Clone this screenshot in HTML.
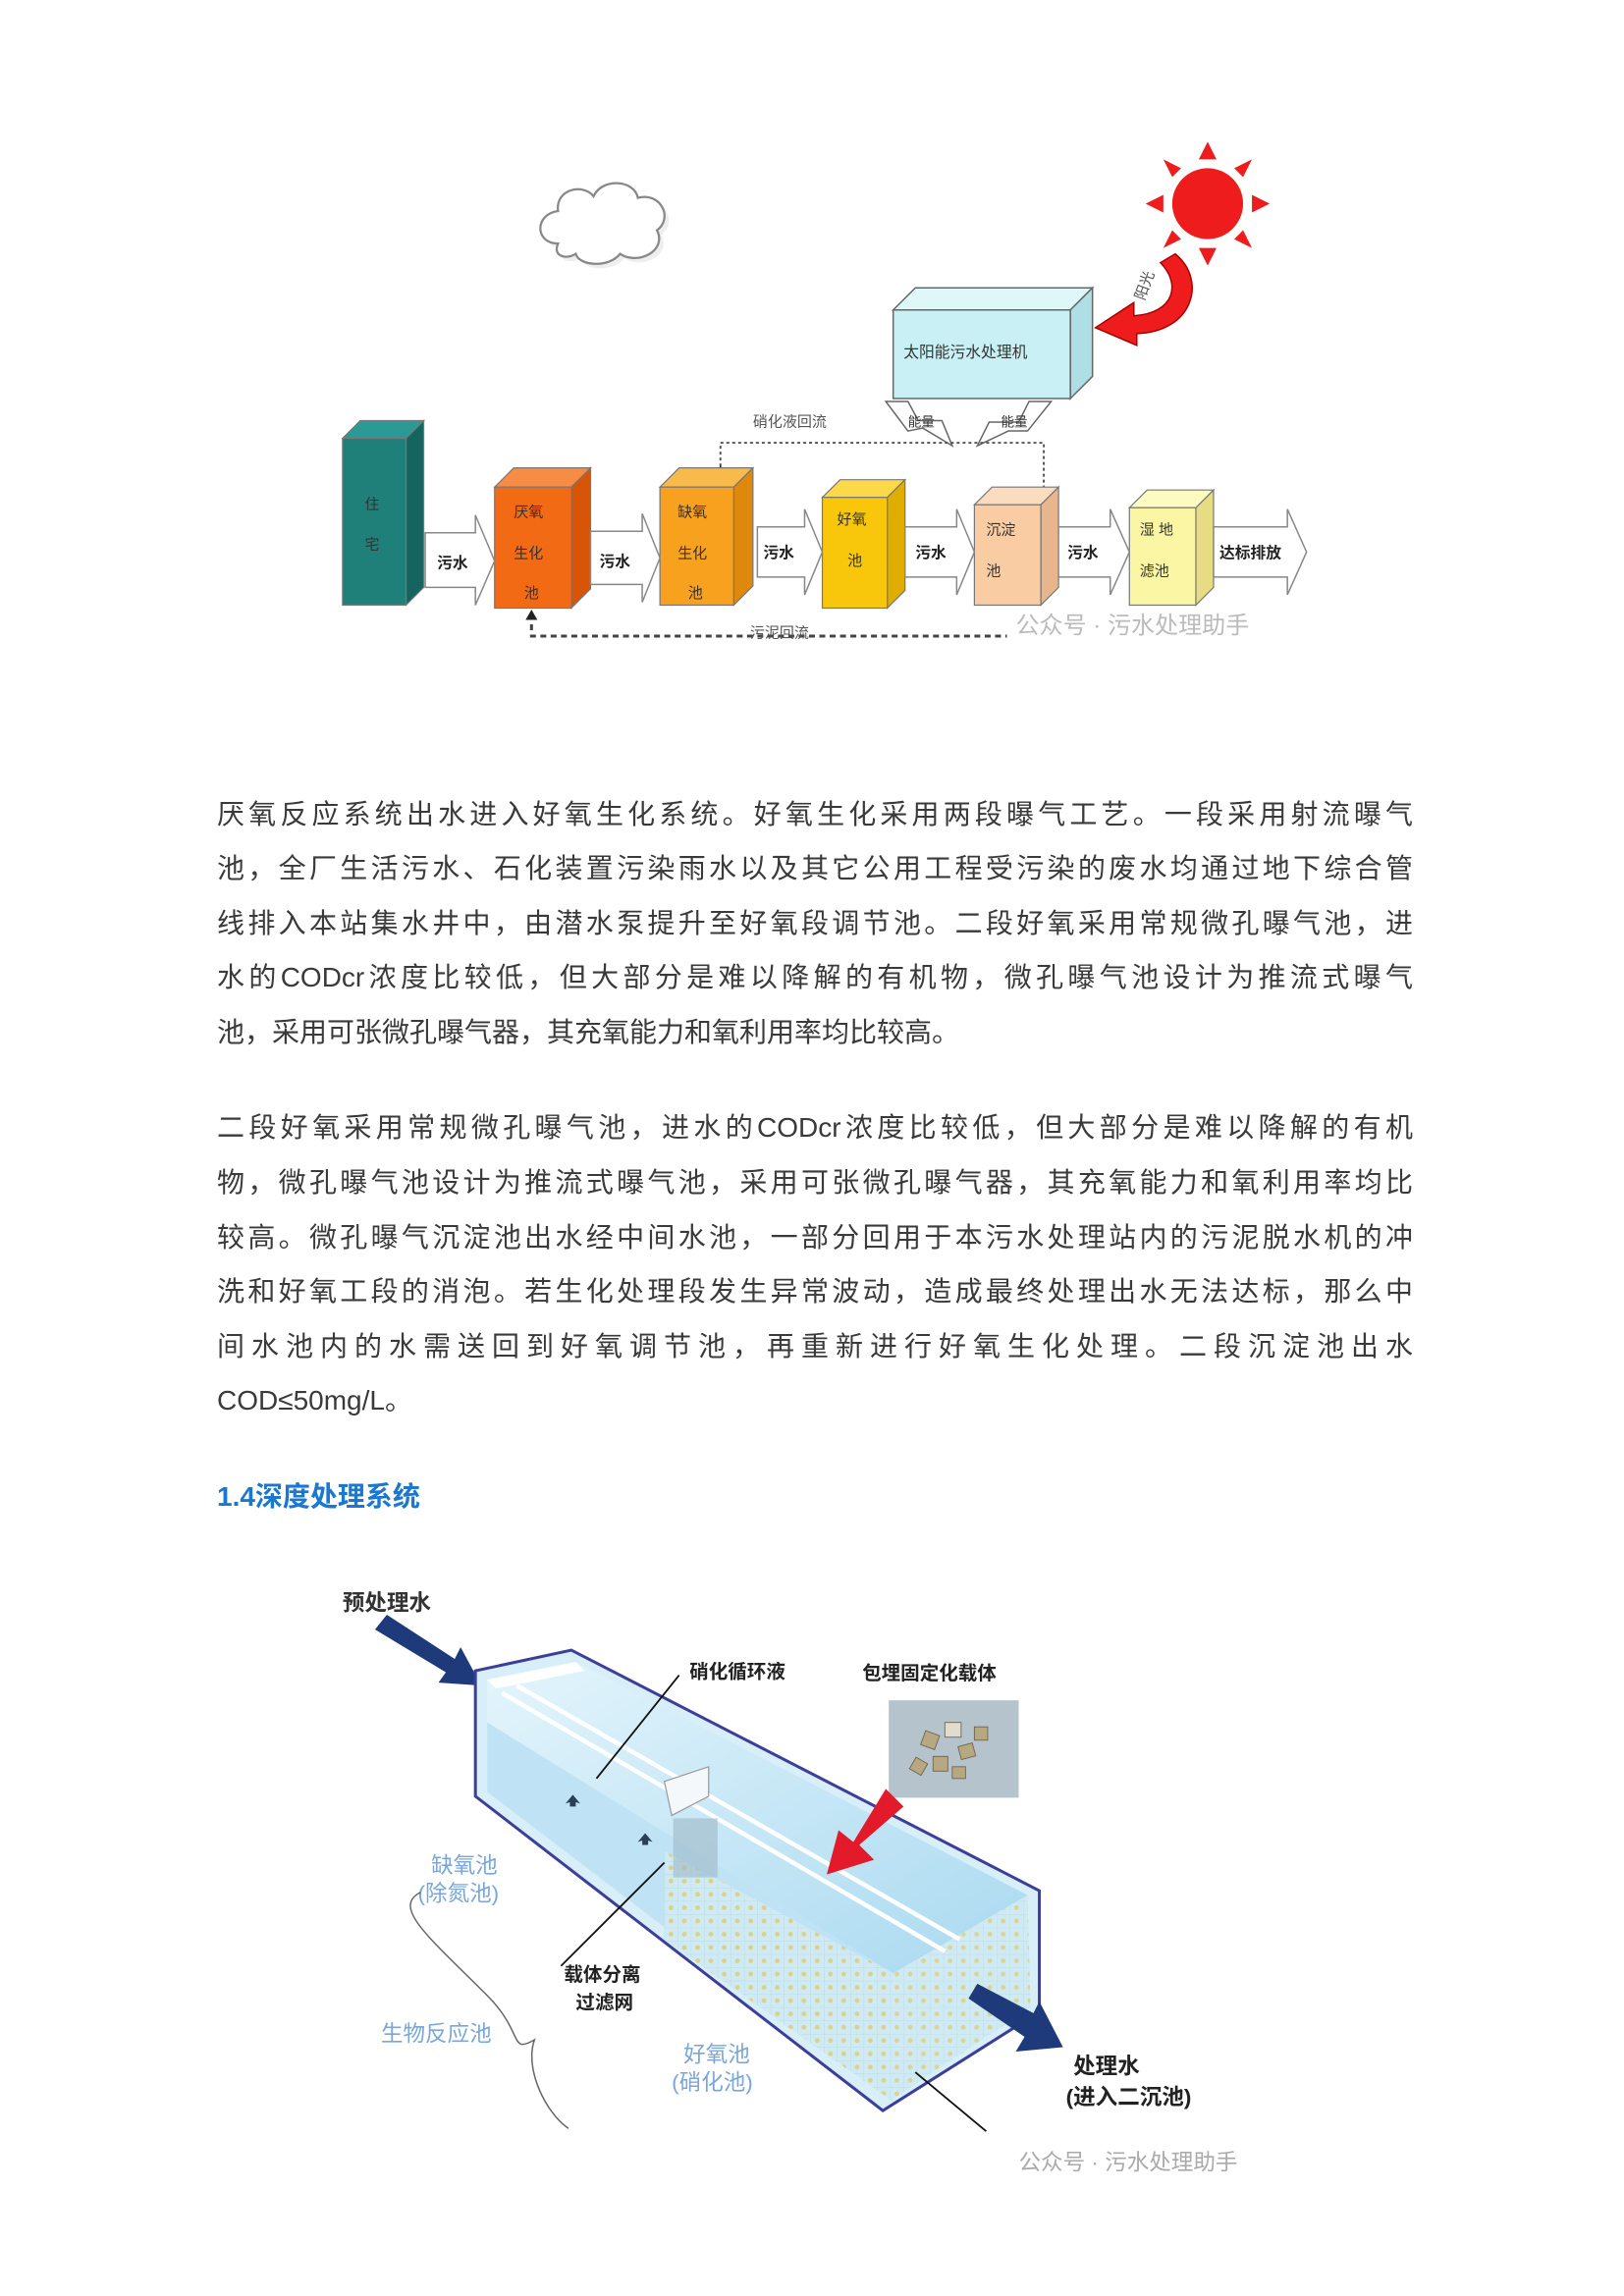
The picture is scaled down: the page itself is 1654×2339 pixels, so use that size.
<!DOCTYPE html>
<html><head><meta charset="utf-8"><style>
html,body{margin:0;padding:0;background:#fff}
body{width:1654px;height:2339px;position:relative;overflow:hidden;font-family:"Liberation Sans","Noto Sans CJK SC",sans-serif}
svg.d{position:absolute;left:0;top:0}
.l{position:absolute;left:221px;width:1218px;font-size:28px;line-height:40px;color:#3a3a3a;text-align:justify;text-align-last:justify;white-space:nowrap;letter-spacing:0}
.l.e{text-align-last:left}
.h{position:absolute;left:221px;top:1503px;font-size:28px;font-weight:bold;color:#1a78d0}
</style></head><body>
<svg class="d" width="1654" height="2339" viewBox="0 0 1100 1555.6" font-family="Liberation Sans, Noto Sans CJK SC, sans-serif">
<defs>
<pattern id="dots" width="9" height="9" patternUnits="userSpaceOnUse"><rect width="9" height="9" fill="#cfeaf3"/><circle cx="4.5" cy="4.5" r="1.6" fill="#d8d28a"/><path d="M0 0H9M0 0V9" stroke="#bcd9e6" stroke-width="0.6"/></pattern>
<linearGradient id="wat" x1="0" y1="0" x2="1" y2="1"><stop offset="0" stop-color="#e4f5fc"/><stop offset="1" stop-color="#a9d9f0"/></linearGradient>
</defs>
<g fill="#fff" stroke="#888" stroke-width="1.5">
<path d="M378 165 C362 165 362 145 378 143 C376 128 395 124 402 133 C408 120 430 122 432 134 C448 130 456 148 445 156 C452 170 432 180 420 172 C412 182 392 180 390 172 C384 176 374 174 378 165Z" fill="#eee" transform="translate(3,3)" stroke="none"/>
<path d="M378 165 C362 165 362 145 378 143 C376 128 395 124 402 133 C408 120 430 122 432 134 C448 130 456 148 445 156 C452 170 432 180 420 172 C412 182 392 180 390 172 C384 176 374 174 378 165Z"/>
</g>
<g fill="#ee1c1c">
<circle cx="818" cy="138" r="24"/>
<polygon points="818,96 812,108 824,108"/><polygon points="818,180 812,168 824,168"/>
<polygon points="776,138 788,132 788,144"/><polygon points="860,138 848,132 848,144"/>
<polygon points="788,108 800,114 794,120"/><polygon points="848,108 836,114 842,120"/>
<polygon points="788,168 794,156 800,162"/><polygon points="848,168 842,156 836,162"/>
<path d="M796 172 C818 190 808 225 770 226 L770 234 L742 222 L768 205 L768 214 C796 212 800 192 786 178Z" stroke="#a00" stroke-width="1"/>
</g>
<text x="775" y="204" font-size="10" fill="#555" transform="rotate(-70 775 204)">阳光</text>
<polygon points="605,210 620,195 740,195 725,210" fill="#def8fa" stroke="#666" stroke-width="1"/>
<polygon points="725,210 740,195 740,255 725,270" fill="#aedfe5" stroke="#666" stroke-width="1"/>
<rect x="605" y="210" width="120" height="60" fill="#c9f1f5" stroke="#666" stroke-width="1"/>
<text x="612" y="242" font-size="10.5" fill="#333">太阳能污水处理机</text>
<g fill="#fff" stroke="#666" stroke-width="1">
<polygon points="600,272 615,272 622,285 638,285 645,302 625,290 615,292"/>
<polygon points="712,272 697,272 690,286 670,286 662,302 683,292 696,292"/>
</g>
<text x="615" y="289" font-size="9" fill="#333">能量</text>
<text x="678" y="289" font-size="9" fill="#333">能量</text>
<text x="510" y="289" font-size="10" fill="#555">硝化液回流</text>
<path d="M488 320 L488 300 L707 300 L707 340" fill="none" stroke="#555" stroke-width="1.3" stroke-dasharray="2 2"/>
<polygon points="488,315 485,322 491,322" fill="#222"/>
<path d="M360 416 L360 431 L682 431" fill="none" stroke="#444" stroke-width="2" stroke-dasharray="4 3"/>
<polygon points="360,413 356,420 364,420" fill="#222"/>
<text x="508" y="432" font-size="10" fill="#555">污泥回流</text>
<g stroke="#777" stroke-width="0.8">
<polygon points="232,297 244,285 287,285 275,297" fill="#2c9a94"/><polygon points="275,297 287,285 287,398 275,410" fill="#166460"/><rect x="232" y="297" width="43" height="113" fill="#1f807a"/>
<polygon points="335,330 348,317 400,317 387,330" fill="#f78d45"/><polygon points="387,330 400,317 400,399 387,412" fill="#d85508"/><rect x="335" y="330" width="52" height="82" fill="#f26a14"/>
<polygon points="447,330 460,317 510,317 497,330" fill="#f9ba4c"/><polygon points="497,330 510,317 510,397 497,410" fill="#de880c"/><rect x="447" y="330" width="50" height="80" fill="#f7a11e"/>
<polygon points="557,337 569,325 613,325 601,337" fill="#fbd948"/><polygon points="601,337 613,325 613,400 601,412" fill="#dfae00"/><rect x="557" y="337" width="44" height="75" fill="#f8c70c"/>
<polygon points="660,342 672,330 717,330 705,342" fill="#fcdcbf"/><polygon points="705,342 717,330 717,398 705,410" fill="#e8b68c"/><rect x="660" y="342" width="45" height="68" fill="#f9cca3"/>
<polygon points="765,344 777,332 822,332 810,344" fill="#fdfbc2"/><polygon points="810,344 822,332 822,398 810,410" fill="#e5dc84"/><rect x="765" y="344" width="45" height="66" fill="#fbf6a4"/>
</g>
<g font-size="10" fill="#333">
<text x="247" y="345">住</text><text x="247" y="372">宅</text>
<text x="348" y="350">厌氧</text><text x="348" y="378">生化</text><text x="355" y="405">池</text>
<text x="459" y="350">缺氧</text><text x="459" y="378">生化</text><text x="466" y="405">池</text>
<text x="567" y="355">好氧</text><text x="574" y="383">池</text>
<text x="668" y="362">沉淀</text><text x="668" y="390">池</text>
<text x="772" y="362">湿 地</text><text x="772" y="390">滤池</text>
</g>
<g fill="#fff" stroke="#888" stroke-width="1">
<polygon points="288,361 322,361 322,349 335,380 322,410 322,398 288,398"/>
<polygon points="400,360 435,360 435,348 447,378 435,408 435,396 400,396"/>
<polygon points="513,357 545,357 545,345 557,374 545,403 545,391 513,391"/>
<polygon points="613,357 648,357 648,345 660,374 648,403 648,391 613,391"/>
<polygon points="717,357 752,357 752,345 765,374 752,403 752,391 717,391"/>
<polygon points="822,357 872,357 872,345 885,374 872,403 872,391 822,391"/>
</g>
<g font-size="10.5" fill="#222" font-weight="bold">
<text x="296" y="385">污水</text><text x="406" y="384">污水</text><text x="517" y="378">污水</text><text x="620" y="378">污水</text><text x="723" y="378">污水</text><text x="826" y="378">达标排放</text>
</g>
<text x="688" y="429" font-size="16" fill="#bbb">公众号 · 污水处理助手</text>

<g transform="translate(0,-8)">
<text x="232" y="1099" font-size="15" font-weight="bold" fill="#333">预处理水</text>
<polygon points="254,1112 262,1102 308,1132 312,1124 326,1150 297,1148 302,1141" fill="#1e3a7a"/>
<polygon points="322,1140 387,1126 704,1289 704,1371 598,1438 322,1225" fill="#d8eef8" stroke="#3b3f9a" stroke-width="2"/>
<polygon points="330,1146 390,1134 696,1292 605,1345 330,1175" fill="url(#wat)"/>
<polygon points="330,1175 605,1345 605,1432 330,1222" fill="#bfe3f4"/>
<polygon points="450,1262 605,1345 605,1432 450,1322" fill="url(#dots)"/>
<polygon points="605,1345 696,1292 698,1368 605,1430" fill="url(#dots)" opacity="0.9"/>
<polygon points="330,1146 390,1134 396,1140 336,1152" fill="#fff"/>
<path d="M340 1155 L640 1330 M350 1150 L650 1322" stroke="#fff" stroke-width="3"/>
<path d="M450 1215 L480 1205 L480 1225 L455 1238Z" fill="#f4f8fa" stroke="#999" stroke-width="0.8"/>
<rect x="456" y="1240" width="30" height="40" fill="#9fb8c6" opacity="0.6"/>
<g fill="#2b3f58"><path d="M383 1230 l5 -6 l5 6 l-3 -1 l0 3 l-4 0 l0 -3z"/><path d="M432 1256 l5 -6 l5 6 l-3 -1 l0 3 l-4 0 l0 -3z"/></g>
<line x1="404" y1="1213" x2="460" y2="1143" stroke="#111" stroke-width="1.2"/>
<text x="467" y="1145" font-size="13" font-weight="bold" fill="#222">硝化循环液</text>
<text x="584" y="1146" font-size="13" font-weight="bold" fill="#222">包埋固定化载体</text>
<rect x="602" y="1160" width="88" height="66" fill="#b5c3cc"/>
<g fill="#b8a882" stroke="#6d6550" stroke-width="0.6">
<rect x="625" y="1182" width="10" height="10" transform="rotate(20 630 1187)"/><rect x="640" y="1175" width="11" height="10" fill="#e0dcd0"/><rect x="650" y="1190" width="10" height="9" transform="rotate(-15 655 1195)"/><rect x="632" y="1198" width="10" height="10"/><rect x="660" y="1178" width="9" height="9"/><rect x="618" y="1200" width="9" height="9" transform="rotate(30 622 1204)"/><rect x="645" y="1205" width="9" height="8"/>
</g>
<polygon points="600,1220 612,1232 582,1258 592,1268 560,1278 568,1248 578,1256" fill="#e21a2a"/>
<line x1="450" y1="1270" x2="380" y2="1340" stroke="#111" stroke-width="1.2"/>
<text x="382" y="1350" font-size="13" font-weight="bold" fill="#222">载体分离</text>
<text x="390" y="1369" font-size="13" font-weight="bold" fill="#222">过滤网</text>
<text x="292" y="1277" font-size="15" fill="#7ba6d8">缺氧池</text>
<text x="283" y="1296" font-size="15" fill="#7ba6d8">(除氮池)</text>
<path d="M285 1290 C265 1300 290 1320 330 1360 C355 1385 345 1400 362 1390 C355 1410 370 1440 385 1450" fill="none" stroke="#666" stroke-width="1"/>
<text x="258" y="1391" font-size="15" fill="#7ba6d8">生物反应池</text>
<text x="463" y="1405" font-size="15" fill="#7ba6d8">好氧池</text>
<text x="455" y="1424" font-size="15" fill="#7ba6d8">(硝化池)</text>
<polygon points="656,1362 662,1352 700,1372 704,1364 720,1395 688,1398 694,1388" fill="#1e3a7a"/>
<text x="727" y="1413" font-size="15" font-weight="bold" fill="#222">处理水</text>
<text x="722" y="1434" font-size="15" font-weight="bold" fill="#222">(进入二沉池)</text>
<line x1="620" y1="1412" x2="668" y2="1452" stroke="#111" stroke-width="1.2"/>
<text x="690" y="1478" font-size="15" fill="#aaa">公众号 · 污水处理助手</text>
</g>
</svg>
<div class="l" style="top:810px">厌氧反应系统出水进入好氧生化系统。好氧生化采用两段曝气工艺。一段采用射流曝气</div>
<div class="l" style="top:865px">池，全厂生活污水、石化装置污染雨水以及其它公用工程受污染的废水均通过地下综合管</div>
<div class="l" style="top:921px">线排入本站集水井中，由潜水泵提升至好氧段调节池。二段好氧采用常规微孔曝气池，进</div>
<div class="l" style="top:976px">水的CODcr浓度比较低，但大部分是难以降解的有机物，微孔曝气池设计为推流式曝气</div>
<div class="l e" style="top:1032px">池，采用可张微孔曝气器，其充氧能力和氧利用率均比较高。</div>
<div class="l" style="top:1129px">二段好氧采用常规微孔曝气池，进水的CODcr浓度比较低，但大部分是难以降解的有机</div>
<div class="l" style="top:1185px">物，微孔曝气池设计为推流式曝气池，采用可张微孔曝气器，其充氧能力和氧利用率均比</div>
<div class="l" style="top:1241px">较高。微孔曝气沉淀池出水经中间水池，一部分回用于本污水处理站内的污泥脱水机的冲</div>
<div class="l" style="top:1296px">洗和好氧工段的消泡。若生化处理段发生异常波动，造成最终处理出水无法达标，那么中</div>
<div class="l" style="top:1352px">间水池内的水需送回到好氧调节池，再重新进行好氧生化处理。二段沉淀池出水</div>
<div class="l e" style="top:1407px">COD≤50mg/L。</div>
<div class="h">1.4深度处理系统</div>
</body></html>
